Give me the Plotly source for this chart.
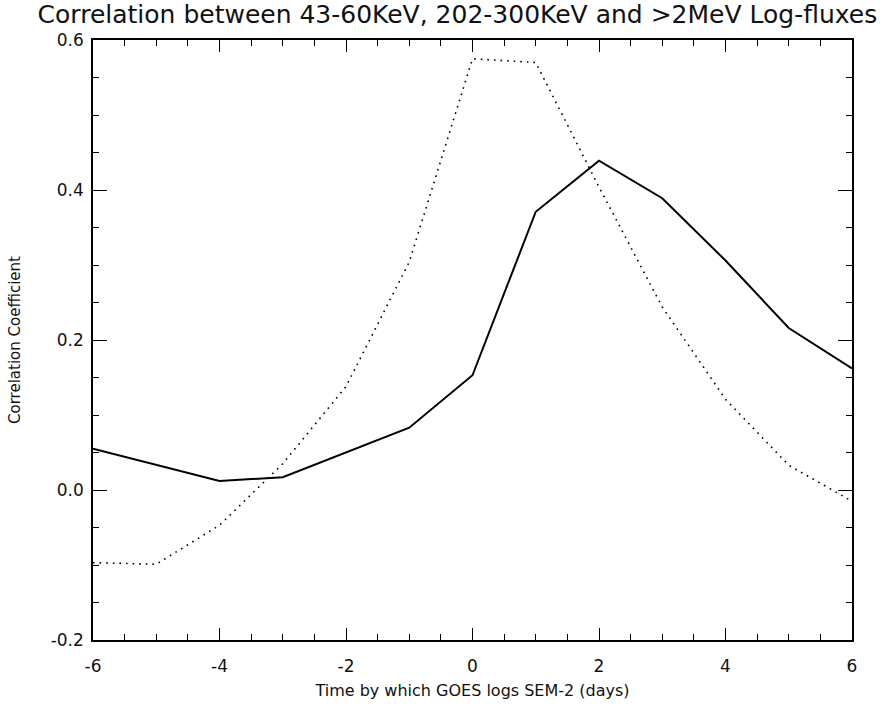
import plotly.graph_objects as go

# Lag (days) by which GOES logs SEM-2
lag_days = [-6, -5, -4, -3, -2, -1, 0, 1, 2, 3, 4, 5, 6]

# Correlation coefficients of the log-fluxes at each lag
corr_solid = [0.055, 0.034, 0.012, 0.017, 0.050, 0.083, 0.153, 0.371, 0.439, 0.389, 0.306, 0.216, 0.162]
corr_dotted = [-0.097, -0.099, -0.047, 0.035, 0.138, 0.304, 0.575, 0.570, 0.404, 0.244, 0.121, 0.033, -0.015]

x_tick_vals = [-6, -4, -2, 0, 2, 4, 6]
x_tick_labels = ["-6", "-4", "-2", "0", "2", "4", "6"]
y_tick_vals = [-0.2, 0.0, 0.2, 0.4, 0.6]
y_tick_labels = ["-0.2", "0.0", "0.2", "0.4", "0.6"]

FONT = "DejaVu Sans"

fig = go.Figure()
fig.add_trace(go.Scatter(
    x=lag_days, y=corr_dotted, mode="lines",
    line=dict(color="black", width=1.6, dash="1.6px,5px"),
    showlegend=False,
))
fig.add_trace(go.Scatter(
    x=lag_days, y=corr_solid, mode="lines",
    line=dict(color="black", width=2),
    showlegend=False,
))

axis_common = dict(
    showgrid=False, zeroline=False, automargin=False,
    showline=True, linecolor="black", linewidth=1.5, mirror="ticks",
    ticks="inside", tickcolor="black", tickwidth=1.2,
    tickfont=dict(family=FONT, size=17, color="#111"),
)

fig.update_xaxes(
    range=[-6, 6], tickvals=x_tick_vals, ticktext=x_tick_labels, ticklen=12,
    ticklabelstandoff=10,
    minor=dict(dtick=0.5, ticks="inside", ticklen=6, tickcolor="black", tickwidth=1.2),
    title=dict(text="Time by which GOES logs SEM-2 (days)",
               font=dict(family=FONT, size=16, color="#111"), standoff=10),
    **axis_common,
)
fig.update_yaxes(
    range=[-0.2, 0.6], tickvals=y_tick_vals, ticktext=y_tick_labels, ticklen=14,
    ticklabelstandoff=4,
    minor=dict(dtick=0.05, ticks="inside", ticklen=6, tickcolor="black", tickwidth=1.2),
    title=dict(text="Correlation Coefficient",
               font=dict(family=FONT, size=15, color="#111"), standoff=26),
    **axis_common,
)

fig.update_layout(
    width=883, height=706,
    margin=dict(l=93, r=31, t=40, b=66),
    paper_bgcolor="white", plot_bgcolor="white",
    title=dict(
        text="Correlation between 43-60KeV, 202-300KeV and >2MeV Log-fluxes",
        font=dict(family=FONT, size=25, color="#111"),
        x=0.518, xanchor="center", y=0.992, yanchor="top",
    ),
)

fig.write_html("out.html")
